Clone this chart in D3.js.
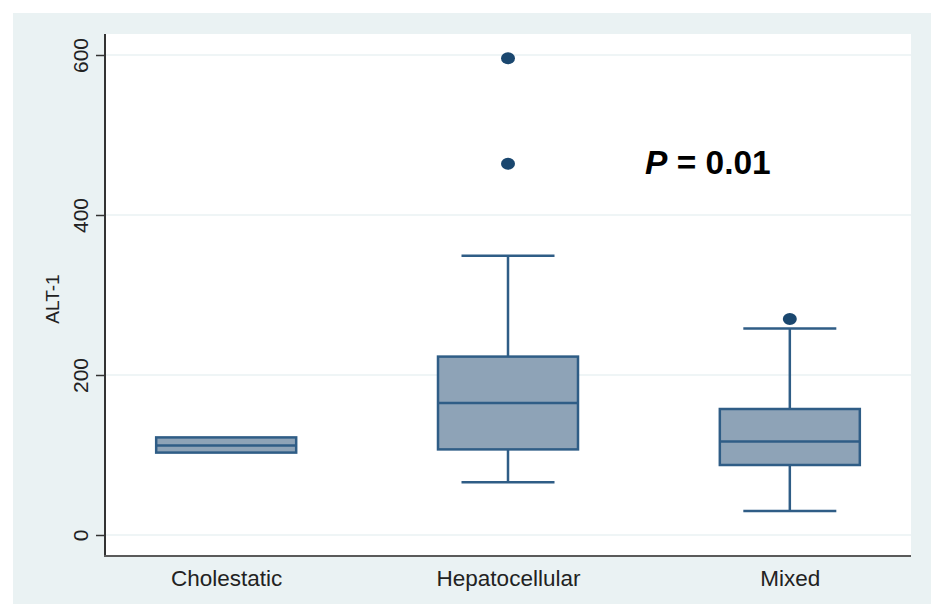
<!DOCTYPE html>
<html><head><meta charset="utf-8">
<script src="https://cdn.jsdelivr.net/npm/d3@7"></script>
<style>body{margin:0;background:#fff}</style></head>
<body>
<svg id="c" width="931" height="604"></svg>
<script>
const categories = ["Cholestatic", "Hepatocellular", "Mixed"];
const q1 = [103, 107, 87.5];
const median = [112, 165, 117];
const q3 = [122, 223, 157.5];
const whiskerLow = [103, 66, 30];
const whiskerHigh = [122, 349, 258];
const outliers = [[], [596, 464], [270]];
const yTicks = [0, 200, 400, 600];
const yLabel = "ALT-1";

const svg = d3.select("#c");
const W = 931, H = 604;
const plot = {left: 105, right: 911, top: 34, bottom: 556};

svg.append("rect").attr("width", W).attr("height", H).attr("fill", "#ffffff");
svg.append("rect").attr("x", 13).attr("y", 13).attr("width", W - 13).attr("height", H - 13).attr("fill", "#eaf2f3");
svg.append("rect").attr("x", plot.left).attr("y", plot.top)
  .attr("width", plot.right - plot.left).attr("height", plot.bottom - plot.top).attr("fill", "#ffffff");

const y = d3.scaleLinear().domain([0, 600]).range([535, 55]);
const x = d3.scalePoint().domain(categories).range([plot.left, plot.right]).padding(0.43);

// gridlines
svg.append("g").selectAll("line").data(yTicks).join("line")
  .attr("x1", plot.left).attr("x2", plot.right)
  .attr("y1", d => y(d)).attr("y2", d => y(d))
  .attr("stroke", "#eaf2f3").attr("stroke-width", 1.5);

// y axis
const yAxis = d3.axisLeft(y).tickValues(yTicks).tickSize(9).tickPadding(8).tickSizeOuter(0);
const gy = svg.append("g").attr("transform", `translate(${plot.left},0)`).call(yAxis);
gy.select(".domain").remove();
gy.selectAll(".tick line").attr("stroke", "#333").attr("stroke-width", 1.5);
gy.selectAll(".tick text")
  .attr("font-family", "Liberation Sans, Arial, sans-serif").attr("font-size", 21).attr("fill", "#222")
  .attr("transform", "rotate(-90)").attr("text-anchor", "middle")
  .attr("x", 0).attr("y", -17).attr("dy", 0);
svg.append("line").attr("x1", plot.left).attr("x2", plot.left).attr("y1", plot.top).attr("y2", plot.bottom + 1)
  .attr("stroke", "#333").attr("stroke-width", 2);

// x axis
const xAxis = d3.axisBottom(x).tickSize(0).tickPadding(14);
const gx = svg.append("g").attr("transform", `translate(0,${plot.bottom})`).call(xAxis);
gx.select(".domain").remove();
gx.selectAll(".tick text")
  .attr("font-family", "Liberation Sans, Arial, sans-serif").attr("font-size", 22.5).attr("fill", "#222")
  .attr("dy", "0.71em");
svg.append("line").attr("x1", plot.left - 1).attr("x2", plot.right).attr("y1", plot.bottom).attr("y2", plot.bottom)
  .attr("stroke", "#5a5a5a").attr("stroke-width", 2);

// y label
svg.append("text").attr("transform", `translate(59,299) rotate(-90)`)
  .attr("text-anchor", "middle").attr("font-family", "Liberation Sans, Arial, sans-serif")
  .attr("font-size", 19).attr("fill", "#222").text(yLabel);

// boxes
const boxW = 140, capW = 93;
const stroke = "#2f5d86", fill = "#8ea3b7";
categories.forEach((c, i) => {
  const cx = x(c);
  const g = svg.append("g");
  if (whiskerHigh[i] > q3[i]) {
    g.append("line").attr("x1", cx).attr("x2", cx).attr("y1", y(q3[i])).attr("y2", y(whiskerHigh[i]))
      .attr("stroke", stroke).attr("stroke-width", 2.5);
    g.append("line").attr("x1", cx - capW / 2).attr("x2", cx + capW / 2).attr("y1", y(whiskerHigh[i])).attr("y2", y(whiskerHigh[i]))
      .attr("stroke", stroke).attr("stroke-width", 2.5);
  }
  if (whiskerLow[i] < q1[i]) {
    g.append("line").attr("x1", cx).attr("x2", cx).attr("y1", y(q1[i])).attr("y2", y(whiskerLow[i]))
      .attr("stroke", stroke).attr("stroke-width", 2.5);
    g.append("line").attr("x1", cx - capW / 2).attr("x2", cx + capW / 2).attr("y1", y(whiskerLow[i])).attr("y2", y(whiskerLow[i]))
      .attr("stroke", stroke).attr("stroke-width", 2.5);
  }
  g.append("rect").attr("x", cx - boxW / 2).attr("width", boxW)
    .attr("y", y(q3[i])).attr("height", y(q1[i]) - y(q3[i]))
    .attr("fill", fill).attr("stroke", stroke).attr("stroke-width", 2.5);
  g.append("line").attr("x1", cx - boxW / 2).attr("x2", cx + boxW / 2).attr("y1", y(median[i])).attr("y2", y(median[i]))
    .attr("stroke", stroke).attr("stroke-width", 2.5);
  g.selectAll("ellipse").data(outliers[i]).join("ellipse")
    .attr("cx", cx).attr("cy", d => y(d)).attr("rx", 7).attr("ry", 6)
    .attr("fill", "#1a476f");
});

// annotation
const t = svg.append("text").attr("x", 645).attr("y", 174)
  .attr("font-family", "Liberation Sans, Arial, sans-serif").attr("font-size", 33.5)
  .attr("font-weight", "bold").attr("fill", "#000");
t.append("tspan").attr("font-style", "italic").text("P");
t.append("tspan").text(" = 0.01");
</script>
</body></html>
